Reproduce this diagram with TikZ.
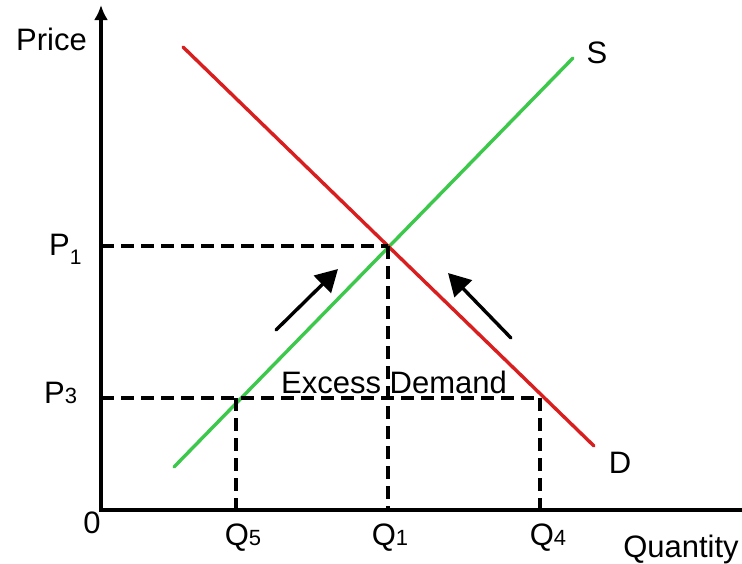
\documentclass[tikz,border=0pt]{standalone}
\usepackage{fontspec}
\setmainfont{Liberation Sans}
\usetikzlibrary{arrows.meta}
\definecolor{supc}{HTML}{3CC84B}
\definecolor{demc}{HTML}{D81E1E}
\tikzset{
  axis/.style={draw=black, line width=3.2pt},
  curve/.style={line width=3.4pt, line cap=round},
  guide/.style={draw=black, line width=3.4pt, dash pattern=on 13pt off 7pt},
  lbl/.style={font=\fontsize{31}{34}\selectfont, inner sep=0pt},
  push/.style={-{Triangle[length=22pt,width=24pt]}, line width=3.4pt, line cap=round},
}
\newcommand{\lowdig}[1]{\raisebox{-9pt}{\fontsize{21}{22}\selectfont #1}}
\newcommand{\smalldig}[1]{{\fontsize{22}{24}\selectfont #1}}

\begin{document}
\begin{tikzpicture}[x=1pt, y=-1pt]
\useasboundingbox (0,0) rectangle (742,563);

% axes
\coordinate (orig) at (101,510);
\coordinate (ytop) at (101,5);
\coordinate (xend) at (742,510);
\draw[axis, -{Latex[length=15pt,width=14pt]}] (101,511.6) -- (ytop);
\draw[axis] (99.4,510) -- (xend);
\node[lbl, anchor=base west] (price) at (16,50) {Price};
\node[lbl, anchor=base] (zero) at (92,533) {0};
\node[lbl, anchor=base] (qty) at (681,557) {Quantity};

% supply and demand
\coordinate (s0) at (174,467);
\coordinate (s1) at (573,58);
\coordinate (d0) at (183,47);
\coordinate (d1) at (594,446);
\draw[curve, supc] (s0) -- (s1);
\draw[curve, demc] (d0) -- (d1);
\node[lbl, anchor=base] (slbl) at (597,63) {S};
\node[lbl, anchor=base] (dlbl) at (620,473) {D};

% equilibrium
\coordinate (eq) at (388,246);
\coordinate (p1ax) at (101,246);
\coordinate (q1ax) at (388,510);
\draw[guide] (p1ax) -- (eq);
\draw[guide] (eq) -- (q1ax);
\node[lbl, anchor=base west] (p1) at (49,255) {P\lowdig{1}};
\node[lbl, anchor=base] (q1) at (390,545) {Q\smalldig{1}};

% price below equilibrium
\coordinate (p3ax) at (101,398);
\coordinate (q5top) at (236,398);
\coordinate (q4top) at (540,398);
\coordinate (q5ax) at (236,510);
\coordinate (q4ax) at (540,510);
\draw[guide] (p3ax) -- (q4top);
\draw[guide] (q5top) -- (q5ax);
\draw[guide] (q4top) -- (q4ax);
\node[lbl, anchor=base west] (p3) at (44,403) {P\smalldig{3}};
\node[lbl, anchor=base] (q5) at (243,545) {Q\smalldig{5}};
\node[lbl, anchor=base] (q4) at (548,545) {Q\smalldig{4}};
\node[lbl, anchor=base] (excess) at (394,393) {Excess Demand};

% pressure back to equilibrium
\coordinate (la) at (276,330);
\coordinate (lb) at (338,269);
\coordinate (ra) at (511,338);
\coordinate (rb) at (448,273);
\draw[push] (la) -- (lb);
\draw[push] (ra) -- (rb);
\end{tikzpicture}
\end{document}
